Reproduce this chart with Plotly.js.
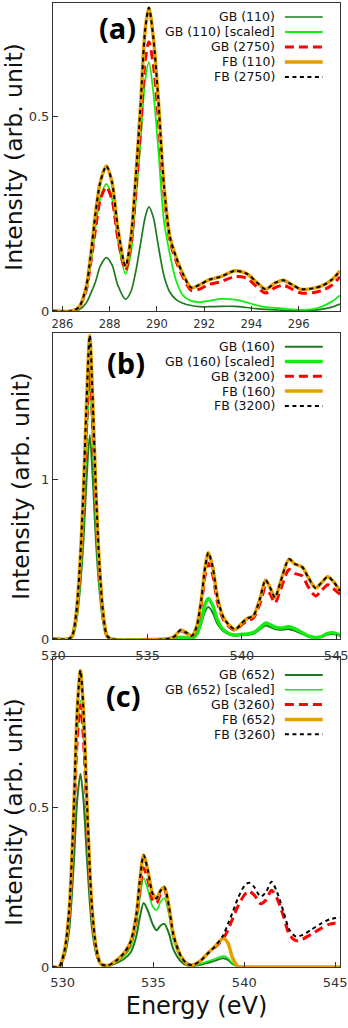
<!DOCTYPE html>
<html>
<head>
<meta charset="utf-8">
<script src="https://cdn.plot.ly/plotly-3.0.1.min.js"></script>
<style>
  html, body { margin: 0; padding: 0; background: #fff; }
  #spectra { width: 348px; height: 1028px; }
</style>
</head>
<body>
<div id="spectra"></div>
<script>
//Data - panel (a), C K-edge
var energyA = [285.6, 286.4, 286.7, 287.0, 287.2, 287.4, 287.6, 287.86, 288.1, 288.35,
  288.67, 288.9, 289.1, 289.3, 289.5, 289.66, 289.85, 290.05, 290.3, 290.55,
  290.8, 291.1, 291.45, 291.8, 292.2, 292.7, 293.3, 293.8, 294.2, 294.6,
  295.0, 295.35, 295.7, 296.1, 296.6, 297.0, 297.4, 297.75];
var gbA = [0, 0, 0.003, 0.02, 0.045, 0.075, 0.115, 0.137, 0.118, 0.065,
  0.03, 0.05, 0.1, 0.17, 0.24, 0.267, 0.24, 0.17, 0.09, 0.048,
  0.03, 0.02, 0.014, 0.011, 0.011, 0.012, 0.012, 0.009, 0.006, 0.004,
  0.003, 0.002, 0.001, 0.001, 0.002, 0.005, 0.01, 0.018];
var gbScaledA = [0, 0, 0.008, 0.05, 0.12, 0.215, 0.29, 0.326, 0.29, 0.18,
  0.095, 0.15, 0.28, 0.43, 0.59, 0.638, 0.56, 0.42, 0.23, 0.145,
  0.08, 0.04, 0.026, 0.023, 0.026, 0.031, 0.029, 0.022, 0.015, 0.01,
  0.008, 0.006, 0.004, 0.003, 0.005, 0.012, 0.024, 0.04];
var gbBigA = [0, 0, 0.009, 0.052, 0.125, 0.21, 0.285, 0.318, 0.285, 0.185,
  0.105, 0.17, 0.30, 0.46, 0.64, 0.69, 0.63, 0.50, 0.30, 0.18,
  0.13, 0.087, 0.053, 0.056, 0.068, 0.075, 0.088, 0.084, 0.064, 0.046,
  0.06, 0.066, 0.057, 0.046, 0.047, 0.053, 0.066, 0.088];
var fbA = [0, 0, 0.01, 0.06, 0.145, 0.25, 0.33, 0.372, 0.33, 0.21,
  0.115, 0.19, 0.34, 0.52, 0.72, 0.778, 0.70, 0.55, 0.32, 0.19,
  0.14, 0.095, 0.06, 0.067, 0.08, 0.088, 0.103, 0.096, 0.075, 0.056,
  0.072, 0.079, 0.068, 0.056, 0.058, 0.065, 0.08, 0.103];
var fbBigA = [0, 0, 0.01, 0.06, 0.145, 0.25, 0.33, 0.372, 0.33, 0.21,
  0.115, 0.19, 0.34, 0.52, 0.72, 0.778, 0.70, 0.55, 0.32, 0.19,
  0.14, 0.095, 0.06, 0.067, 0.08, 0.088, 0.103, 0.096, 0.075, 0.056,
  0.072, 0.079, 0.068, 0.056, 0.058, 0.065, 0.08, 0.103];
var namesA = ['GB (110)', 'GB (110) [scaled]', 'GB (2750)', 'FB (110)', 'FB (2750)'];

//Data - panel (b), O K-edge
var energyB = [529.98, 530.8, 531.0, 531.2, 531.4, 531.6, 531.75, 531.93, 532.1, 532.25,
  532.45, 532.65, 532.85, 533.1, 536.0, 536.4, 536.75, 537.05, 537.35, 537.6,
  537.85, 538.05, 538.22, 538.45, 538.7, 539.0, 539.3, 539.65, 540.0, 540.3,
  540.6, 540.95, 541.25, 541.5, 541.75, 542.05, 542.5, 542.8, 543.2, 543.5,
  543.9, 544.2, 544.55, 544.85, 545.2];
var gbB = [0, 0, 0.015, 0.1, 0.3, 0.63, 0.98, 1.275, 0.98, 0.63,
  0.3, 0.1, 0.015, 0, 0, 0.002, 0.01, 0.006, 0.004, 0.025,
  0.1, 0.175, 0.2, 0.165, 0.095, 0.05, 0.03, 0.02, 0.025, 0.027,
  0.032, 0.06, 0.085, 0.075, 0.062, 0.058, 0.062, 0.052, 0.032, 0.016,
  0.008, 0.012, 0.028, 0.032, 0.02];
var gbScaledB = [0, 0, 0.018, 0.13, 0.40, 0.85, 1.32, 1.72, 1.32, 0.85,
  0.40, 0.13, 0.018, 0, 0, 0.003, 0.012, 0.008, 0.005, 0.03,
  0.12, 0.22, 0.254, 0.21, 0.12, 0.06, 0.035, 0.025, 0.03, 0.032,
  0.04, 0.07, 0.10, 0.09, 0.075, 0.07, 0.077, 0.065, 0.04, 0.02,
  0.01, 0.015, 0.035, 0.04, 0.025];
var gbBigB = [0, 0, 0.018, 0.13, 0.40, 0.85, 1.3, 1.68, 1.3, 0.85,
  0.40, 0.13, 0.018, 0, 0, 0.013, 0.05, 0.036, 0.018, 0.07,
  0.22, 0.40, 0.475, 0.40, 0.23, 0.125, 0.08, 0.055, 0.09, 0.115,
  0.13, 0.22, 0.32, 0.28, 0.225, 0.31, 0.435, 0.41, 0.395, 0.33,
  0.27, 0.30, 0.34, 0.315, 0.28];
var fbB = [0, 0, 0.02, 0.15, 0.45, 0.95, 1.45, 1.9, 1.45, 0.95,
  0.45, 0.15, 0.02, 0, 0, 0.015, 0.056, 0.04, 0.02, 0.08,
  0.25, 0.45, 0.54, 0.45, 0.26, 0.14, 0.09, 0.06, 0.1, 0.13,
  0.145, 0.25, 0.37, 0.32, 0.26, 0.36, 0.50, 0.47, 0.45, 0.39,
  0.32, 0.35, 0.39, 0.36, 0.30];
var fbBigB = [0, 0, 0.02, 0.15, 0.45, 0.95, 1.45, 1.9, 1.45, 0.95,
  0.45, 0.15, 0.02, 0, 0, 0.015, 0.056, 0.04, 0.02, 0.08,
  0.25, 0.45, 0.54, 0.45, 0.26, 0.14, 0.09, 0.06, 0.1, 0.13,
  0.145, 0.25, 0.37, 0.32, 0.26, 0.36, 0.50, 0.47, 0.45, 0.39,
  0.32, 0.35, 0.39, 0.36, 0.30];
var namesB = ['GB (160)', 'GB (160) [scaled]', 'GB (3200)', 'FB (160)', 'FB (3200)'];

//Data - panel (c), O K-edge
var energyC = [529.47, 529.8, 530.1, 530.35, 530.6, 530.8, 530.98, 531.15, 531.35, 531.6,
  531.85, 532.1, 532.5, 532.95, 533.4, 533.75, 534.05, 534.25, 534.46, 534.7,
  534.95, 535.17, 535.4, 535.6, 535.85, 536.1, 536.5, 536.85, 537.15, 537.6,
  538.0, 538.4, 538.85, 539.1, 539.35, 539.65, 540.0, 540.25, 540.55, 540.9,
  541.2, 541.5, 541.8, 542.15, 542.5, 542.85, 543.2, 543.7, 544.2, 544.7, 545.27];
var gbC = [0, 0, 0.035, 0.11, 0.31, 0.52, 0.605, 0.52, 0.33, 0.13,
  0.04, 0.008, 0.003, 0.012, 0.026, 0.046, 0.095, 0.155, 0.2, 0.175,
  0.135, 0.115, 0.13, 0.135, 0.105, 0.055, 0.018, 0.005, 0.003, 0.007,
  0.013, 0.02, 0.027, 0.022, 0.01, 0.002, 0, 0, 0, 0,
  0, 0, 0, 0, 0, 0, 0, 0, 0, 0, 0];
var gbScaledC = [0, 0, 0.045, 0.15, 0.43, 0.72, 0.834, 0.72, 0.45, 0.18,
  0.055, 0.01, 0.004, 0.016, 0.035, 0.062, 0.13, 0.215, 0.278, 0.24,
  0.19, 0.178, 0.205, 0.215, 0.165, 0.085, 0.028, 0.008, 0.004, 0.01,
  0.018, 0.026, 0.034, 0.028, 0.012, 0.002, 0, 0, 0, 0,
  0, 0, 0, 0, 0, 0, 0, 0, 0, 0, 0];
var gbBigC = [0, 0, 0.045, 0.15, 0.42, 0.71, 0.82, 0.71, 0.45, 0.18,
  0.055, 0.01, 0.005, 0.02, 0.042, 0.075, 0.145, 0.24, 0.31, 0.27,
  0.21, 0.2, 0.23, 0.24, 0.185, 0.1, 0.035, 0.01, 0.006, 0.02,
  0.043, 0.062, 0.09, 0.115, 0.15, 0.19, 0.225, 0.237, 0.225, 0.198,
  0.21, 0.24, 0.215, 0.16, 0.1, 0.082, 0.087, 0.103, 0.12, 0.134, 0.14];
var fbC = [0, 0, 0.05, 0.17, 0.47, 0.8, 0.928, 0.8, 0.5, 0.2,
  0.06, 0.01, 0.005, 0.02, 0.045, 0.08, 0.16, 0.27, 0.35, 0.3,
  0.23, 0.215, 0.24, 0.25, 0.19, 0.1, 0.035, 0.01, 0.006, 0.02,
  0.043, 0.065, 0.09, 0.075, 0.03, 0.002, 0, 0, 0, 0,
  0, 0, 0, 0, 0, 0, 0, 0, 0, 0, 0];
var fbBigC = [0, 0, 0.05, 0.17, 0.47, 0.8, 0.928, 0.8, 0.5, 0.2,
  0.06, 0.01, 0.005, 0.02, 0.045, 0.08, 0.16, 0.27, 0.35, 0.3,
  0.23, 0.215, 0.24, 0.25, 0.19, 0.1, 0.035, 0.01, 0.006, 0.02,
  0.043, 0.065, 0.1, 0.135, 0.17, 0.215, 0.253, 0.264, 0.25, 0.22,
  0.235, 0.267, 0.235, 0.175, 0.115, 0.095, 0.1, 0.117, 0.135, 0.149, 0.155];
var namesC = ['GB (652)', 'GB (652) [scaled]', 'GB (3260)', 'FB (652)', 'FB (3260)'];

var ticksA = [286, 288, 290, 292, 294, 296];
var ticksO = [530, 535, 540, 545];

//Line styles, same order as the legend
var darkGreen = '#1e7a1e';
var lightGreen = '#10ee10';
var red = '#ff0000';
var orange = '#e69f00';

function styles(gbWidth, scaledWidth) {
  return [
    {color: darkGreen, width: gbWidth, dash: 'solid'},
    {color: lightGreen, width: scaledWidth, dash: 'solid'},
    {color: red, width: 3, dash: '9px,5px'},
    {color: orange, width: 3.5, dash: 'solid'},
    {color: '#000000', width: 2, dash: '4px,3.5px'}
  ];
}

var panels = [
  {id: '', x: energyA, ys: [gbA, gbScaledA, gbBigA, fbA, fbBigA], names: namesA,
    styles: styles(1.7, 1.8), label: '(a)', labelPos: [0.226, 0.919],
    legendTop: 14, rowStep: 15, height: 308},
  {id: '2', x: energyB, ys: [gbB, gbScaledB, gbBigB, fbB, fbBigB], names: namesB,
    styles: styles(2, 3.4), label: '(b)', labelPos: [0.254, 0.905],
    legendTop: 13.7, rowStep: 14.8, height: 306},
  {id: '3', x: energyC, ys: [gbC, gbScaledC, gbBigC, fbC, fbBigC], names: namesC,
    styles: styles(2, 1.6), label: '(c)', labelPos: [0.247, 0.877],
    legendTop: 18, rowStep: 14.8, height: 310}
];

var data = [];
var annotations = [];
var shapes = [];

panels.forEach(function(p) {
  var xa = 'x' + p.id;
  var ya = 'y' + p.id;
  p.ys.forEach(function(y, i) {
    var s = p.styles[i];
    data.push({
      x: p.x, y: y, name: p.names[i],
      type: 'scatter', mode: 'lines',
      xaxis: xa, yaxis: ya,
      line: {color: s.color, width: s.width, dash: s.dash, shape: 'spline', smoothing: 0.8},
      hoverinfo: 'x+y+name'
    });

    // gnuplot style key: text on the left, line sample on the right
    var yy = 1 - (p.legendTop + i * p.rowStep) / p.height;
    annotations.push({
      xref: xa + ' domain', yref: ya + ' domain',
      x: 0.78, y: yy, xanchor: 'right', yanchor: 'middle',
      text: p.names[i], showarrow: false,
      font: {family: 'DejaVu Sans', size: 12.5, color: '#111'}
    });
    shapes.push({
      type: 'line', xref: xa + ' domain', yref: ya + ' domain',
      x0: 0.808, x1: 0.94, y0: yy, y1: yy,
      line: {color: s.color, width: s.width, dash: s.dash}
    });
  });

  annotations.push({
    xref: xa + ' domain', yref: ya + ' domain',
    x: p.labelPos[0], y: p.labelPos[1], xanchor: 'center', yanchor: 'middle',
    text: p.label, showarrow: false,
    font: {family: 'Open Sans', size: 29, weight: 700, color: '#000'}
  });
});

//Layout
var axisStyle = {
  showline: true, mirror: true, linecolor: '#333', linewidth: 1,
  ticks: 'inside', ticklen: 5, tickcolor: '#333', tickwidth: 1,
  showgrid: false, zeroline: false,
  tickfont: {family: 'DejaVu Sans', size: 13, color: '#333'}
};

function axis(extra) {
  return Object.assign({}, axisStyle, extra);
}

var yTitle = {
  text: 'Intensity (arb. unit)',
  font: {family: 'DejaVu Sans', size: 23.5, color: '#111'},
  standoff: 4
};

var layout = {
  width: 348,
  height: 1028,
  margin: {l: 53, r: 8, t: 3, b: 61},
  paper_bgcolor: 'white',
  plot_bgcolor: 'white',
  showlegend: false,
  xaxis: axis({anchor: 'y', domain: [0, 1], range: [285.6, 297.75], tickvals: ticksA,
    ticklabelstandoff: 2, ticklabeloverflow: 'allow',
    tickfont: {family: 'DejaVu Sans', size: 11.5, color: '#333'}}),
  yaxis: axis({anchor: 'x', domain: [0.6805, 1], range: [0, 0.79], tickvals: [0, 0.5],
    title: yTitle}),
  xaxis2: axis({anchor: 'y2', domain: [0, 1], range: [529.98, 545.2], tickvals: ticksO,
    ticklabelstandoff: 4, ticklabeloverflow: 'allow'}),
  yaxis2: axis({anchor: 'x2', domain: [0.3402, 0.6577], range: [0, 1.915], tickvals: [0, 1],
    title: yTitle}),
  xaxis3: axis({anchor: 'y3', domain: [0, 1], range: [529.47, 545.27], tickvals: ticksO,
    ticklabelstandoff: 3, ticklabeloverflow: 'allow',
    title: {text: 'Energy (eV)', font: {family: 'DejaVu Sans', size: 24, color: '#111'}, standoff: 8}}),
  yaxis3: axis({anchor: 'x3', domain: [0, 0.3216], range: [0, 0.97], tickvals: [0, 0.5],
    title: yTitle}),
  annotations: annotations,
  shapes: shapes
};

//Plotting
Plotly.newPlot('spectra', data, layout, {displayModeBar: false, staticPlot: true});
</script>
</body>
</html>
